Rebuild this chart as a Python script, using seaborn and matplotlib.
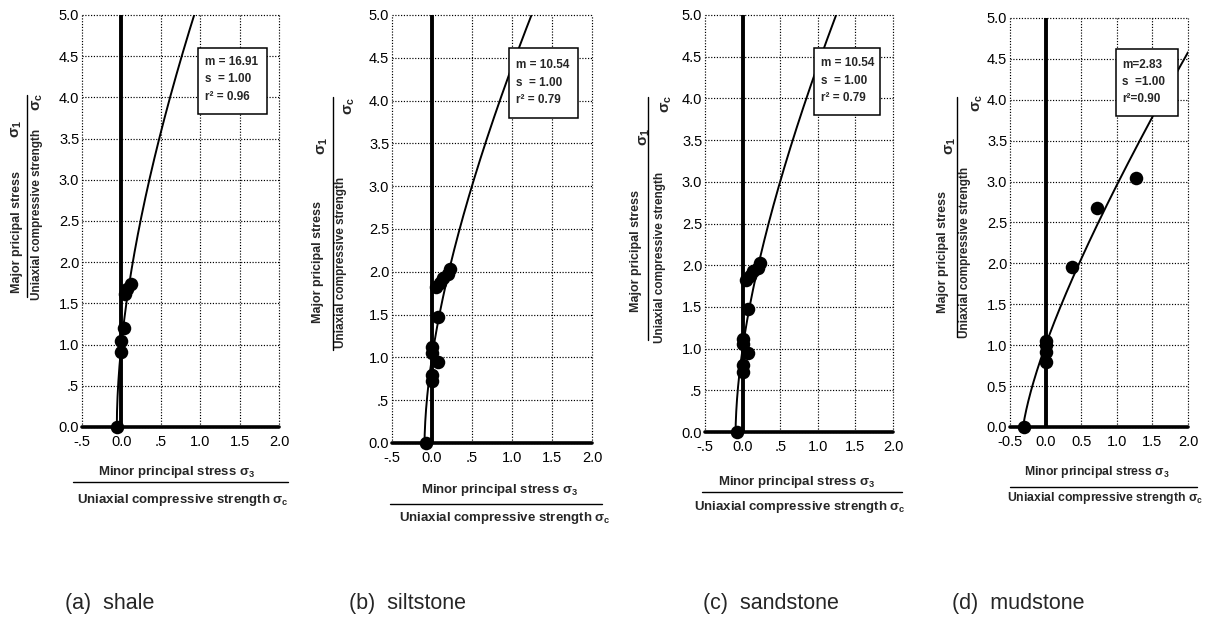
import numpy as np
import pandas as pd
import matplotlib
matplotlib.use("Agg")
import matplotlib.pyplot as plt
import seaborn as sns
from matplotlib.patches import Rectangle
from matplotlib.lines import Line2D

# ---------------------------------------------------------------- data
captions = ["(a)  shale", "(b)  siltstone", "(c)  sandstone", "(d)  mudstone"]
m_values = [16.91, 10.54, 10.54, 2.83]
s_values = [1.00, 1.00, 1.00, 1.00]
r2_values = [0.96, 0.79, 0.79, 0.90]

shale_x = [-0.06, 0.00, 0.00, 0.03, 0.05, 0.07, 0.12]
shale_y = [0.00, 0.91, 1.04, 1.20, 1.62, 1.68, 1.73]

siltstone_x = [-0.08, 0.00, 0.00, 0.00, 0.00, 0.07, 0.07, 0.05, 0.10, 0.14, 0.20, 0.23]
siltstone_y = [0.00, 0.72, 0.80, 1.05, 1.12, 0.95, 1.47, 1.82, 1.87, 1.93, 1.97, 2.03]

sandstone_x = [-0.08, 0.00, 0.00, 0.00, 0.00, 0.07, 0.07, 0.05, 0.10, 0.14, 0.20, 0.23]
sandstone_y = [0.00, 0.72, 0.80, 1.05, 1.12, 0.95, 1.47, 1.82, 1.87, 1.93, 1.97, 2.03]

mudstone_x = [-0.31, 0.00, 0.00, 0.00, 0.00, 0.37, 0.72, 1.27]
mudstone_y = [0.00, 0.80, 0.92, 1.00, 1.05, 1.96, 2.68, 3.04]

x_ticks = [-0.5, 0.0, 0.5, 1.0, 1.5, 2.0]
y_ticks = [0.0, 0.5, 1.0, 1.5, 2.0, 2.5, 3.0, 3.5, 4.0, 4.5, 5.0]
x_labels_short = ["-.5", "0.0", ".5", "1.0", "1.5", "2.0"]
x_labels_full = ["-0.5", "0.0", "0.5", "1.0", "1.5", "2.0"]
y_labels_short = ["0.0", ".5", "1.0", "1.5", "2.0", "2.5", "3.0", "3.5", "4.0", "4.5", "5.0"]
y_labels_full = ["0.0", "0.5", "1.0", "1.5", "2.0", "2.5", "3.0", "3.5", "4.0", "4.5", "5.0"]

box_texts = [
    ["m = 16.91", "s  = 1.00", "r\u00b2 = 0.96"],
    ["m = 10.54", "s  = 1.00", "r\u00b2 = 0.79"],
    ["m = 10.54", "s  = 1.00", "r\u00b2 = 0.79"],
    ["m=2.83", "s  =1.00", "r\u00b2=0.90"],
]

points = [(shale_x, shale_y), (siltstone_x, siltstone_y),
          (sandstone_x, sandstone_y), (mudstone_x, mudstone_y)]

# ---------------------------------------------------------------- layout (pixels)
W, H = 1210, 619
axes_px = [(82, 15, 279, 427), (392, 15, 592, 443), (705, 15, 893, 432), (1010, 18, 1188, 427)]
box_px = [(198, 48, 267, 114), (509, 48, 578, 118), (814, 48, 880, 115), (1116, 49, 1178, 116)]
box_text_px = [(205, [62, 79.5, 97]), (516, [65, 82.5, 100]), (821, [63, 80.5, 98]), (1122, [65, 82, 99])]
# y label: (line1 x, line1 bottom, sigma1 x, sigma1 y, bar x, bar top, bar bottom, line2 x, line2 bottom, sigmac x, sigmac y)
ylab_px = [
    (17, 293, 17, 129, 27, 95, 297, 37, 300, 38, 102),
    (318, 323, 323, 146, 333, 97, 350, 341, 348, 350, 106),
    (636, 312, 645, 137, 648, 97, 340, 660, 343, 667, 104),
    (943, 313, 951, 146, 957, 97, 337, 965, 338, 978, 103),
]
# x label: (text1 x, text1 y, bar y, bar left, bar right, text2 x, text2 y, size)
xlab_px = [
    (177, 472, 482, 73, 288, 183, 500, 9.5),
    (500, 490, 504, 390, 602, 505, 518, 9.5),
    (797, 482, 492, 702, 902, 800, 507, 9.5),
    (1097, 472, 487, 1010, 1197, 1105, 498, 8.8),
]
caption_px = [(110, 604), (408, 604), (771, 604), (1018, 604)]

sns.set_theme(style="white")
plt.rcParams["font.family"] = ["Liberation Sans", "DejaVu Sans"]
plt.rcParams["mathtext.fontset"] = "custom"
plt.rcParams["mathtext.rm"] = "Liberation Sans:bold"
plt.rcParams["mathtext.it"] = "Liberation Sans:bold"
plt.rcParams["mathtext.bf"] = "Liberation Sans:bold"

fig = plt.figure(figsize=(W / 100, H / 100), dpi=100)
fig.patch.set_facecolor("white")


def fx(px):
    return px / W


def fy(py):
    return 1 - py / H


for i in range(4):
    l, t, r, b = axes_px[i]
    ax = fig.add_axes([fx(l), fy(b), (r - l) / W, (b - t) / H])
    ax.set_facecolor("white")
    ax.set_xlim(-0.5, 2.0)
    ax.set_ylim(0, 5.0)
    ax.set_xticks(x_ticks)
    ax.set_yticks(y_ticks)
    if i < 3:
        ax.set_xticklabels(x_labels_short)
        ax.set_yticklabels(y_labels_short)
    else:
        ax.set_xticklabels(x_labels_full)
        ax.set_yticklabels(y_labels_full)
    ax.tick_params(axis="both", length=0, labelsize=10.5, colors="black")
    ax.tick_params(axis="x", pad=6)
    ax.tick_params(axis="y", pad=2)
    for sp in ax.spines.values():
        sp.set_visible(False)
    ax.grid(True, color="black", linestyle=(0, (1, 1.4)), linewidth=0.85)
    for gl in ax.get_xgridlines() + ax.get_ygridlines():
        gl.set_clip_on(False)

    # coordinate axes
    ax.axvline(0, color="black", lw=2.8, zorder=3)
    ax.axhline(0, color="black", lw=2.6, zorder=3, clip_on=False)

    # Hoek-Brown envelope
    m, s = m_values[i], s_values[i]
    sx = np.linspace(-s / m, 2.0, 600)
    env = pd.DataFrame({"s3": sx, "s1": sx + np.sqrt(np.clip(m * sx + s, 0, None))})
    sns.lineplot(data=env, x="s3", y="s1", ax=ax, color="black", lw=1.4,
                 sort=False, estimator=None, zorder=4)

    # test results
    px_, py_ = points[i]
    pts = pd.DataFrame({"s3": px_, "s1": py_})
    sns.scatterplot(data=pts, x="s3", y="s1", ax=ax, s=95, color="black",
                    edgecolor="black", linewidth=0, zorder=5, clip_on=False)
    ax.set_xlabel("")
    ax.set_ylabel("")

    # parameter box
    bl, bt, br, bb = box_px[i]
    fig.add_artist(Rectangle((fx(bl), fy(bb)), (br - bl) / W, (bb - bt) / H,
                             transform=fig.transFigure, facecolor="white",
                             edgecolor="black", lw=1.1, zorder=6))
    tx, tys = box_text_px[i]
    for txt, ty in zip(box_texts[i], tys):
        fig.text(fx(tx), fy(ty), txt, fontsize=8.5, fontweight="bold",
                 ha="left", va="center", zorder=7)

    # y axis label as a fraction
    (l1x, l1b, s1x, s1y, bx, btop, bbot, l2x, l2b, scx, scy) = ylab_px[i]
    fig.text(fx(l1x), fy(l1b), "Major pricipal stress", rotation=90, fontsize=9,
             fontweight="bold", ha="center", va="bottom")
    fig.text(fx(s1x), fy(s1y), r"$\sigma_1$", rotation=90, fontsize=11,
             ha="center", va="center")
    fig.add_artist(Line2D([fx(bx), fx(bx)], [fy(btop), fy(bbot)],
                          transform=fig.transFigure, color="black", lw=1.0))
    fig.text(fx(l2x), fy(l2b), "Uniaxial compressive strength", rotation=90,
             fontsize=8.5, fontweight="bold", ha="center", va="bottom")
    fig.text(fx(scx), fy(scy), r"$\sigma_c$", rotation=90, fontsize=11,
             ha="center", va="center")

    # x axis label as a fraction
    (t1x, t1y, lby, lbl, lbr, t2x, t2y, fs) = xlab_px[i]
    fig.text(fx(t1x), fy(t1y), r"Minor principal stress $\sigma_3$", fontsize=fs,
             fontweight="bold", ha="center", va="center")
    fig.add_artist(Line2D([fx(lbl), fx(lbr)], [fy(lby), fy(lby)],
                          transform=fig.transFigure, color="black", lw=1.0))
    fig.text(fx(t2x), fy(t2y), r"Uniaxial compressive strength $\sigma_c$",
             fontsize=fs, fontweight="bold", ha="center", va="center")

    # caption
    cx, cy = caption_px[i]
    fig.text(fx(cx), fy(cy), captions[i], fontsize=15.5, ha="center", va="center")

fig.savefig("out.png", dpi=100, facecolor="white")
